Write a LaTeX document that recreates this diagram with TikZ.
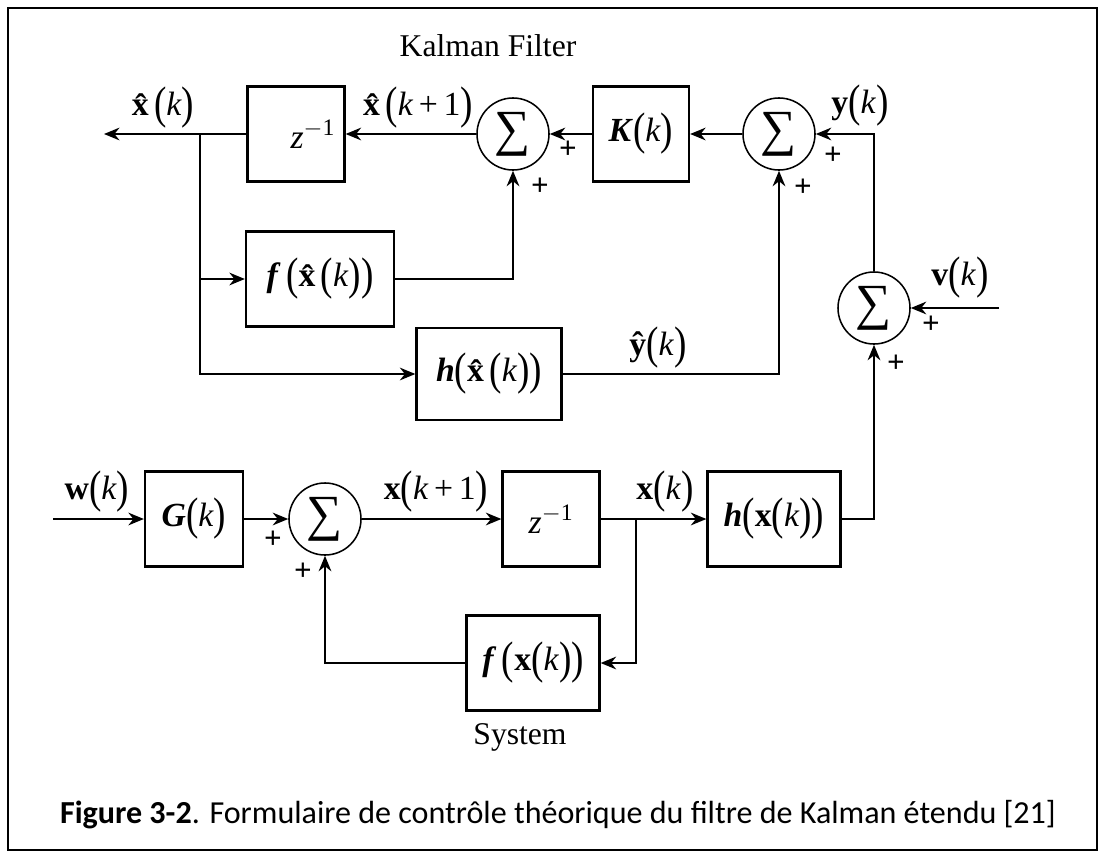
\documentclass[tikz,border=0pt]{standalone}
\usepackage{graphicx}
\usepackage{fontspec}
\setmainfont{Liberation Serif}
\newfontfamily\capfont{Carlito}
\usetikzlibrary{arrows.meta,positioning}
\newcommand{\Lb}{\raisebox{-0.09em}{\scalebox{1.1}[1.35]{(}}}
\newcommand{\Rb}{\raisebox{-0.09em}{\scalebox{1.1}[1.35]{)}}}
\newcommand{\kk}{\textit{k}\/}
\newcommand{\xh}{\textbf{\^{x}}}
\newcommand{\zinv}{\textit{z}\textsuperscript{$-$1}}

\begin{document}
\begin{tikzpicture}[x=0.025cm,y=-0.025cm,font=\fontsize{24}{28}\selectfont,line width=1.6pt,
 >={Stealth[length=11pt,width=9pt]},
 blk/.style={draw,minimum height=2.375cm,inner sep=0pt},
 sumc/.style={draw,circle,minimum size=1.8cm,inner sep=0pt,line width=1.1pt,font=\fontsize{36}{36}\selectfont},
 txt/.style={font=\fontsize{22.5}{26}\selectfont},
 pl/.style={inner sep=0pt,font=\fontsize{22}{22}\selectfont\bfseries}]
\useasboundingbox (0,0) rectangle (1105,856);
\draw[line width=1.4pt] (8,8) rectangle (1097,850);
\node[blk,minimum width=2.425cm] (z1) at (296,134) {\hspace{1em}\zinv};
\node[sumc] (s1) at (513,134) {∑};
\node[blk,minimum width=2.4cm] (K) at (641,134) {\textbf{\textit{K}}\Lb\kk\Rb};
\node[sumc] (s2) at (779,134) {∑};
\node[sumc] (s3) at (874,308) {∑};
\node[blk,minimum width=3.7cm] (fh) at (320,279) {\textbf{\textit{f}}\,\Lb\xh\Lb\kk\Rb\Rb};
\node[blk,minimum width=3.625cm,minimum height=2.3cm] (hh) at (489,374) {\textbf{\textit{h}}\Lb\xh\Lb\kk\Rb\Rb};
\node[blk,minimum width=2.45cm] (G) at (194,519) {\textbf{\textit{G}}\Lb\kk\Rb};
\node[sumc] (s4) at (325,519) {∑};
\node[blk,minimum width=2.425cm] (z2) at (551,519) {\zinv};
\node[blk,minimum width=3.325cm] (hx) at (774,519) {\textbf{\textit{h}}\Lb\textbf{x}\Lb\kk\Rb\Rb};
\node[blk,minimum width=3.325cm] (fx) at (533,663) {\textbf{\textit{f}}\,\Lb\textbf{x}\Lb\kk\Rb\Rb};
\coordinate (xo) at (104,134); \coordinate (j1) at (200,134);
\coordinate (vi) at (999,308); \coordinate (wi) at (53,519); \coordinate (j2) at (636,519);
\draw[->] (s1) -- (z1); \draw[->] (K) -- (s1); \draw[->] (s2) -- (K); \draw[->] (z1) -- (xo);
\draw[->] (j1) |- (fh); \draw[->] (j1) |- (hh);
\draw[->] (fh) -| (s1); \draw[->] (hh) -| (s2);
\draw[->] (s3) |- (s2); \draw[->] (vi) -- (s3);
\draw[->] (wi) -- (G); \draw[->] (G) -- (s4); \draw[->] (s4) -- (z2); \draw[->] (z2) -- (hx);
\draw[->] (j2) |- (fx); \draw[->] (hx) -| (s3); \draw[->] (fx) -| (s4);
\node (lxh) at (163,108) {\xh\Lb\kk\Rb};
\node (lxh1) at (418,108) {\xh\Lb\kk\,+\,1\Rb};
\node (ly) at (860,106) {\textbf{y}\Lb\kk\Rb};
\node (lyh) at (658,348) {\textbf{\^{y}}\Lb\kk\Rb};
\node (lv) at (960,278) {\textbf{v}\Lb\kk\Rb};
\node (lw) at (97,492) {\textbf{w}\Lb\kk\Rb};
\node (lx1) at (436,492) {\textbf{x}\Lb\kk\,+\,1\Rb};
\node (lx) at (665,492) {\textbf{x}\Lb\kk\Rb};
\node[txt] (ttl) at (488,46) {Kalman Filter};
\node[txt] (sys) at (520,737) {System};
\foreach \i/\px/\py in {1/568/150,2/540/187,3/833/156,4/803/188,5/931/325,6/896/364,7/273/540,8/303/572}
 \node[pl] (p\i) at (\px,\py) {+};
\node[font=\capfont\fontsize{22.8}{26}\selectfont] (cap) at (558,815) {\textbf{Figure 3-2}. Formulaire de contrôle théorique du filtre de Kalman étendu [21]};
\end{tikzpicture}
\end{document}
